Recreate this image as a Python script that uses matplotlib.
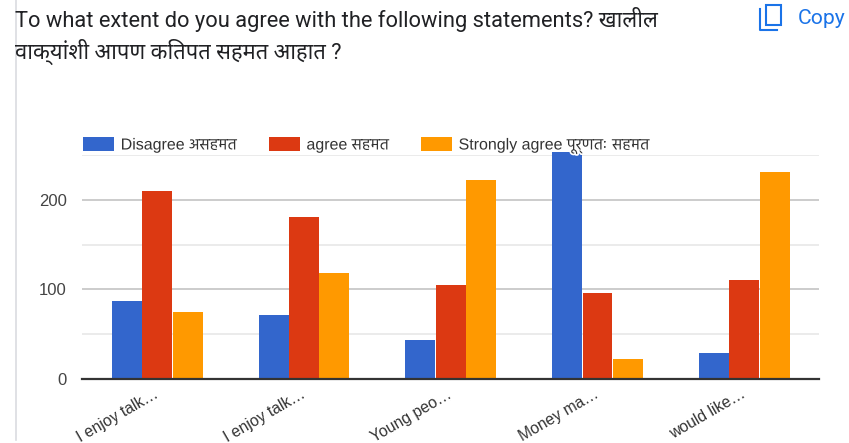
import matplotlib
matplotlib.use("Agg")
import matplotlib.pyplot as plt
import matplotlib.patheffects as pe
from matplotlib.patches import Rectangle
from matplotlib.lines import Line2D
from matplotlib.transforms import ScaledTranslation
import numpy as np

categories = ["I enjoy talk…", "I enjoy talk…", "Young peo…", "Money ma…", "would like…"]
disagree = [87, 71, 44, 253, 29]
agree = [210, 181, 105, 96, 110]
strongly = [75, 118, 222, 22, 231]
series_names = ["Disagree असहमत", "agree सहमत", "Strongly agree पूर्णतः सहमत"]
colors = ["#3366cc", "#dc3912", "#ff9900"]
title_lines = ["To what extent do you agree with the following statements? खालील",
               "वाक्यांशी आपण कितपत सहमत आहात ?"]

W, H = 849, 443
fig = plt.figure(figsize=(W / 100, H / 100), dpi=100)
sans = ["Liberation Sans", "Hind", "DejaVu Sans"]
rob = ["Roboto", "Noto Sans Devanagari", "Hind", "DejaVu Sans"]


def fx(x):
    return x / W


def fy(y):
    return 1 - y / H


ax = fig.add_axes([fx(82), fy(379), (819 - 82) / W, (379 - 155) / H])
x = np.arange(len(categories))
bw = 0.207
for i, (vals, c) in enumerate(zip([disagree, agree, strongly], colors)):
    ax.bar(x + (i - 1) * bw, vals, bw * 0.985, color=c, zorder=3, clip_on=False, label=series_names[i])

ax.set_xlim(-0.5125, 4.5095)
ax.set_ylim(0, 250)
ax.set_yticks([0, 100, 200])
ax.set_yticks([50, 150, 250], minor=True)
ax.grid(axis="y", which="major", color="#cccccc", lw=1.4, zorder=0)
ax.grid(axis="y", which="minor", color="#ebebeb", lw=1.4, zorder=0)
ax.set_axisbelow(True)
for s in ["top", "right", "left"]:
    ax.spines[s].set_visible(False)
ax.spines["bottom"].set_color("#333333")
ax.spines["bottom"].set_linewidth(1.6)
ax.spines["bottom"].set_zorder(5)
ax.tick_params(axis="both", which="both", length=0)
ax.tick_params(axis="y", pad=11, labelsize=12, labelcolor="#444444")
for t in ax.get_yticklabels():
    t.set_family(sans)
ax.set_xticks(x)
ax.set_xticklabels(categories, rotation=30, ha="right", rotation_mode="anchor",
                   fontsize=11.3, color="#333333", family=sans)
ax.tick_params(axis="x", pad=5.5)
shift = ScaledTranslation(-3.5 / 100, 0, fig.dpi_scale_trans)
for t in ax.get_xticklabels():
    t.set_transform(t.get_transform() + shift)

leg = ax.legend(loc="lower left", bbox_to_anchor=(fx(83), fy(154)), bbox_transform=fig.transFigure,
                ncol=3, frameon=False, handlelength=1.94, handleheight=0.94, handletextpad=0.42,
                columnspacing=2.0, borderpad=0, borderaxespad=0, prop={"family": sans, "size": 11.5})
leg.set_zorder(10)
for t in leg.get_texts():
    t.set_color("#333333")
    t.set_path_effects([pe.withStroke(linewidth=2.5, foreground="white")])

fig.text(fx(15), fy(20), title_lines[0], family=rob, fontsize=15.75, color="#202124", va="center")
fig.text(fx(15), fy(52), title_lines[1], family=rob, fontsize=15.75, color="#202124", va="center")
fig.text(fx(798), fy(18), "Copy", family=rob, fontsize=15.2, color="#1a73e8", va="center")

fig.add_artist(Line2D([fx(15.5), fx(15.5)], [fy(0), fy(440)], transform=fig.transFigure, color="#dadce0", lw=1.2))
icon = "#1a73e8"
fig.add_artist(Rectangle((fx(766), fy(25)), 15 / W, 20 / H, transform=fig.transFigure, fc="none", ec=icon, lw=1.5))
fig.add_artist(Line2D([fx(760), fx(760), fx(777)], [fy(9), fy(30), fy(30)], transform=fig.transFigure,
                      color=icon, lw=1.5))

fig.savefig("out.png", dpi=100)
